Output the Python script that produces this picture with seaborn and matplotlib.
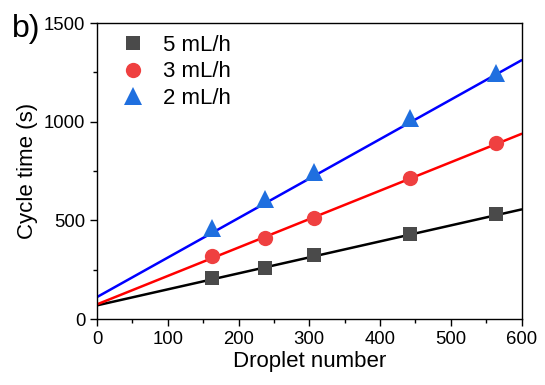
import numpy as np
import pandas as pd
import matplotlib
matplotlib.use("Agg")
import matplotlib.pyplot as plt
import seaborn as sns
from matplotlib.ticker import MultipleLocator

droplets = [163, 237, 307, 443, 564]
t_5 = [208, 257, 325, 430, 532]
t_3 = [321, 410, 514, 713, 891]
t_2 = [463, 611, 745, 1019, 1248]
series_labels = ["5 mL/h", "3 mL/h", "2 mL/h"]
fit_intercepts = [70, 75, 112]
fit_slopes = [0.81, 1.44, 2.0]
fit_x = [0, 600]

sns.set_style("ticks")
plt.rcParams['font.family'] = ['Liberation Sans', 'DejaVu Sans']
plt.rcParams['text.color'] = 'black'
plt.rcParams['axes.labelcolor'] = 'black'
plt.rcParams['xtick.color'] = 'black'
plt.rcParams['ytick.color'] = 'black'

fig = plt.figure(figsize=(5.45, 3.85), dpi=100)
ax = fig.add_axes([0.178, 0.171, 0.779, 0.769])

line_colors = ["black", "red", "blue"]
marker_colors = ["#4a4a4a", "#ef4040", "#1f6fdf"]
markers = ["s", "o", "^"]
msizes = [9.5, 11, 12.5]

for i, ys in enumerate([t_5, t_3, t_2]):
    fx = np.array(fit_x, dtype=float)
    fy = fit_intercepts[i] + fit_slopes[i] * fx
    sns.lineplot(x=fx, y=fy, ax=ax, color=line_colors[i], lw=1.8, zorder=2)

for i, ys in enumerate([t_5, t_3, t_2]):
    df = pd.DataFrame({"x": droplets, "y": ys})
    ax.plot(df["x"], df["y"], linestyle="none", marker=markers[i],
            color=marker_colors[i], markersize=msizes[i], markeredgewidth=0,
            label=series_labels[i], zorder=3)

ax.set_xlim(0, 600)
ax.set_ylim(0, 1500)
ax.xaxis.set_major_locator(MultipleLocator(100))
ax.xaxis.set_minor_locator(MultipleLocator(50))
ax.yaxis.set_major_locator(MultipleLocator(500))
ax.yaxis.set_minor_locator(MultipleLocator(250))
ax.tick_params(which="major", direction="out", length=5, width=1, labelsize=13.3, colors="black")
ax.tick_params(which="minor", direction="out", length=3, width=1, colors="black")
ax.tick_params(top=False, right=False, which="both")
for s in ax.spines.values():
    s.set_visible(True)
    s.set_linewidth(1.0)
    s.set_color("black")

ax.set_xlabel("Droplet number", fontsize=16, labelpad=2, color="black")
ax.set_ylabel("Cycle time (s)", fontsize=16, labelpad=4, color="black")

leg = ax.legend(loc="upper left", frameon=False, fontsize=16, handletextpad=0.36,
                handlelength=2.0, borderaxespad=0.0, borderpad=0.4,
                labelspacing=0.24, bbox_to_anchor=(0.012, 0.99))
for t in leg.get_texts():
    t.set_color("black")

fig.text(0.022, 0.905, "b)", fontsize=23, color="black")

fig.savefig("out.png", dpi=100)
